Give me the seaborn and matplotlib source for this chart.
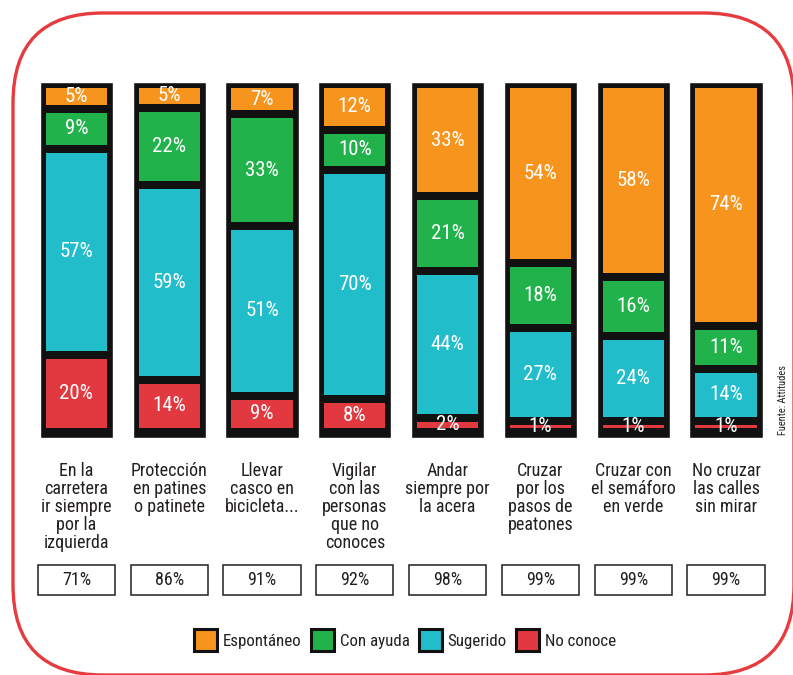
import matplotlib
matplotlib.use("Agg")
import matplotlib.pyplot as plt
import seaborn as sns
import numpy as np
import pandas as pd
from matplotlib.patches import FancyBboxPatch, Rectangle, Patch
from matplotlib import font_manager

categories = [
    "En la\ncarretera\nir siempre\npor la\nizquierda",
    "Protección\nen patines\no patinete",
    "Llevar\ncasco en\nbicicleta...",
    "Vigilar\ncon las\npersonas\nque no\nconoces",
    "Andar\nsiempre por\nla acera",
    "Cruzar\npor los\npasos de\npeatones",
    "Cruzar con\nel semáforo\nen verde",
    "No cruzar\nlas calles\nsin mirar",
]
no_conoce = [20, 14, 9, 8, 2, 1, 1, 1]
sugerido = [57, 59, 51, 70, 44, 27, 24, 14]
con_ayuda = [9, 22, 33, 10, 21, 18, 16, 11]
espontaneo = [5, 5, 7, 12, 33, 54, 58, 74]
totals = ["71%", "86%", "91%", "92%", "98%", "99%", "99%", "99%"]

series_names = ["No conoce", "Sugerido", "Con ayuda", "Espontáneo"]
colors = {"Espontáneo": "#F7941D", "Con ayuda": "#22B24C",
          "Sugerido": "#21BDCA", "No conoce": "#E2383F"}

available = {f.name for f in font_manager.fontManager.ttflist}
fam = "Liberation Sans"
for cand in ["Roboto Condensed", "Archivo Narrow", "Barlow Semi Condensed",
             "Liberation Sans Narrow"]:
    if cand in available:
        fam = cand
        break

sns.set_theme(style="white")
plt.rcParams["font.family"] = [fam, "DejaVu Sans"]

W, H = 793, 675
fig = plt.figure(figsize=(W / 100, H / 100), dpi=100)

# background overlay in pixel coords
bg = fig.add_axes([0, 0, 1, 1], zorder=0)
bg.set_xlim(0, W)
bg.set_ylim(H, 0)
bg.axis("off")
frame = FancyBboxPatch((13, 13), 781, 662, boxstyle="round,pad=0,rounding_size=90",
                       fill=False, edgecolor="#E63B3F", linewidth=2.4)
bg.add_patch(frame)

# main axes
top_px, bot_px = 82, 438
left_px, step = 30, 92.8
ax = fig.add_axes([left_px / W, (H - bot_px) / H, 8 * step / W, (bot_px - top_px) / H], zorder=1)
ax.patch.set_alpha(0)

ppu = (bot_px - top_px) / 100.0
bot_pad, top_pad, gap = 10 / ppu, 6 / ppu, 8 / ppu
inner = 100 - bot_pad - top_pad - 3 * gap

df = pd.DataFrame({"cat": categories, "No conoce": no_conoce, "Sugerido": sugerido,
                   "Con ayuda": con_ayuda, "Espontáneo": espontaneo})
df["sum"] = df[series_names].sum(axis=1)
df["frame"] = 100.0

# black frames
sns.barplot(data=df, x="cat", y="frame", color="#111111", width=0.79, ax=ax,
            saturation=1, order=categories)

bottom = np.full(len(df), bot_pad)
for name in series_names:
    h = df[name].to_numpy() / df["sum"].to_numpy() * inner
    sns.barplot(data=df, x="cat", y=h, color=colors[name], width=0.66, ax=ax,
                saturation=1, bottom=bottom, order=categories, linewidth=0)
    for i, (v, b, hh) in enumerate(zip(df[name], bottom, h)):
        ax.text(i, b + hh / 2, f"{v}%", ha="center", va="center", color="white",
                fontsize=15, zorder=5)
    bottom = bottom + h + gap

ax.set_xlim(-0.5, 7.5)
ax.set_ylim(0, 100)
ax.set_yticks([])
ax.set_xlabel("")
ax.set_ylabel("")
sns.despine(ax=ax, left=True, bottom=True)
ax.tick_params(axis="x", length=0, pad=17)
ax.set_xticks(range(len(categories)))
ax.set_xticklabels(categories, fontsize=13, color="#231F20", linespacing=1.0, va="top")

# totals boxes
xt = ax.get_xaxis_transform()
by0 = (bot_px - 595) / (bot_px - top_px)
bh = 30 / (bot_px - top_px)
for i, t in enumerate(totals):
    ax.add_patch(Rectangle((i - 0.415, by0), 0.83, bh, transform=xt, clip_on=False,
                           fill=False, edgecolor="#231F20", linewidth=1.1))
    ax.text(i, by0 + bh / 2, t, transform=xt, ha="center", va="center",
            fontsize=13, color="#231F20")

# legend
handles = [Patch(facecolor=colors[n], edgecolor="#111111", linewidth=2.2, label=n)
           for n in ["Espontáneo", "Con ayuda", "Sugerido", "No conoce"]]
fig.legend(handles=handles, loc="center", bbox_to_anchor=(405 / W, 1 - 640 / H), ncol=4,
           frameon=False, fontsize=12.2, handlelength=1.35, handleheight=1.55,
           handletextpad=0.35, columnspacing=0.55, labelcolor="#231F20")

bg.text(783, 400, "Fuente: Attitudes", rotation=90, ha="center", va="center",
        fontsize=7.5, color="#231F20")

fig.savefig("out.png", dpi=100)
